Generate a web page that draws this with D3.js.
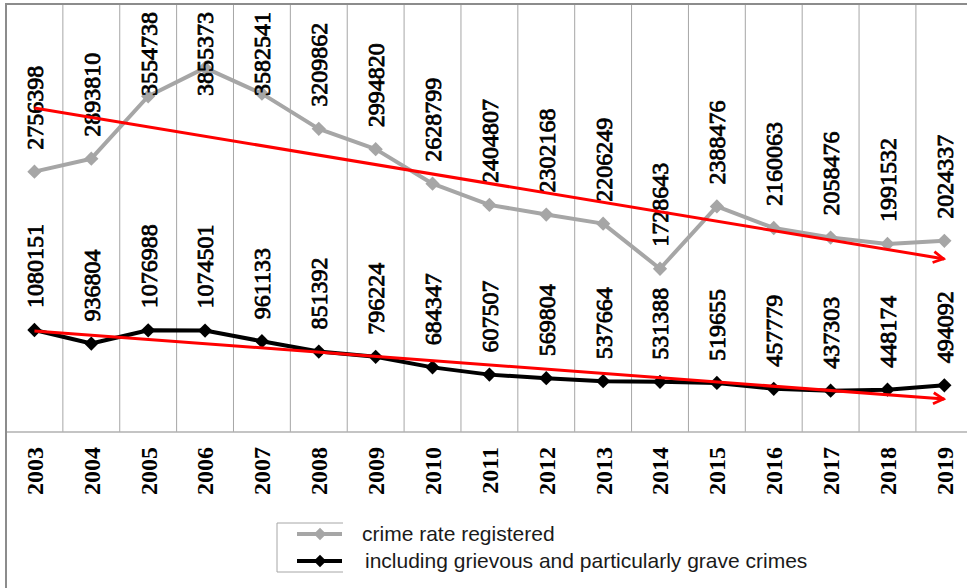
<!DOCTYPE html>
<html>
<head>
<meta charset="utf-8">
<script src="https://cdn.jsdelivr.net/npm/d3@7/dist/d3.min.js"></script>
<style>
  html, body { margin: 0; padding: 0; background: #fff; }
  svg { display: block; }
</style>
</head>
<body>
<svg id="chart" width="967" height="588"></svg>
<script>
// Registered crime, 2003–2019
const years = ["2003","2004","2005","2006","2007","2008","2009","2010","2011",
               "2012","2013","2014","2015","2016","2017","2018","2019"];
const crimeTotal = [2756398, 2893810, 3554738, 3855373, 3582541, 3209862, 2994820,
                    2628799, 2404807, 2302168, 2206249, 1728643, 2388476, 2160063,
                    2058476, 1991532, 2024337];
const crimeGrave = [1080151, 936804, 1076988, 1074501, 961133, 851392, 796224,
                    684347, 607507, 569804, 537664, 531388, 519655, 457779,
                    437303, 448174, 494092];
const legendLabels = ["crime rate registered",
                      "including grievous and particularly grave crimes"];

const W = 967, H = 588;
const plotLeft = 6, plotTop = 4, axisY = 432;
const colW = 56.87;

const svg = d3.select("#chart");
const serif = "'Liberation Serif', 'Times New Roman', serif";
const sans = "'Liberation Sans', Arial, sans-serif";

const x = d3.scaleBand().domain(years).range([plotLeft, plotLeft + colW * years.length]);
const cx = d => x(d) + x.bandwidth() / 2;
const y = d3.scaleLinear().domain([0, 4500000]).range([axisY, 7]);

// column separators
svg.append("g").selectAll("line")
  .data(years.slice(1))
  .join("line")
  .attr("x1", d => x(d)).attr("x2", d => x(d))
  .attr("y1", plotTop).attr("y2", axisY)
  .attr("stroke", "#a6a6a6").attr("stroke-width", 1);

// category axis line
svg.append("line")
  .attr("x1", plotLeft).attr("x2", W)
  .attr("y1", axisY).attr("y2", axisY)
  .attr("stroke", "#b0b0b0").attr("stroke-width", 1.5);

// outer frame (top and left)
svg.append("path")
  .attr("d", `M${W},${plotTop} H${plotLeft} V${H}`)
  .attr("fill", "none").attr("stroke", "#8c8c8c").attr("stroke-width", 2);

// year labels
svg.append("g").selectAll("text")
  .data(years)
  .join("text")
  .attr("transform", d => `translate(${cx(d)},447) rotate(-90)`)
  .attr("text-anchor", "end")
  .attr("dy", "0.35em")
  .attr("font-family", serif).attr("font-weight", "bold").attr("font-size", 24)
  .attr("fill", "#000")
  .text(d => d);

// least-squares trend over the series
function trend(vals) {
  const n = vals.length, xm = (n - 1) / 2, ym = d3.mean(vals);
  let sxy = 0, sxx = 0;
  vals.forEach((v, i) => { sxy += (i - xm) * (v - ym); sxx += (i - xm) * (i - xm); });
  const b = sxy / sxx, a = ym - b * xm;
  return [a, a + b * (n - 1)];
}

const defs = svg.append("defs");
defs.append("marker")
  .attr("id", "arrow")
  .attr("markerUnits", "userSpaceOnUse")
  .attr("viewBox", "-14 -8 16 16")
  .attr("refX", 0).attr("refY", 0)
  .attr("markerWidth", 16).attr("markerHeight", 16)
  .attr("orient", "auto")
  .append("path")
  .attr("d", "M-11,-5.5 L-1,0 L-11,5.5")
  .attr("fill", "none").attr("stroke", "#ff0000").attr("stroke-width", 2.8)
  .attr("stroke-linejoin", "miter");

const diamond = d3.symbol().type(d3.symbolDiamond2);

function drawSeries(vals, color, markerSize) {
  const g = svg.append("g");
  const line = d3.line().x((d, i) => cx(years[i])).y(d => y(d));
  g.append("path")
    .attr("d", line(vals))
    .attr("fill", "none").attr("stroke", color)
    .attr("stroke-width", 4).attr("stroke-linejoin", "round");
  g.selectAll("path.pt")
    .data(vals)
    .join("path")
    .attr("class", "pt")
    .attr("transform", (d, i) => `translate(${cx(years[i])},${y(d)})`)
    .attr("d", diamond.size(markerSize))
    .attr("fill", color);
}

function drawTrend(vals) {
  const [v0, v1] = trend(vals);
  svg.append("line")
    .attr("x1", cx(years[0])).attr("y1", y(v0))
    .attr("x2", cx(years[years.length - 1])).attr("y2", y(v1))
    .attr("stroke", "#ff0000").attr("stroke-width", 3)
    .attr("marker-end", "url(#arrow)");
}

function drawLabels(vals) {
  const g = svg.append("g");
  g.selectAll("text")
    .data(vals)
    .join("text")
    .attr("text-anchor", "start")
    .attr("dy", "0.35em")
    .attr("font-family", serif).attr("font-size", 24)
    .attr("fill", "#000").attr("stroke", "#000").attr("stroke-width", 0.8)
    .text(d => d)
    .attr("transform", function (d, i) {
      const len = this.getComputedTextLength();
      let bottom = y(d) - 22;
      if (bottom - len < 12) bottom = 12 + len;
      return `translate(${cx(years[i])},${bottom}) rotate(-90)`;
    });
}

drawSeries(crimeTotal, "#a6a6a6", 130);
drawSeries(crimeGrave, "#000000", 130);
drawLabels(crimeTotal);
drawLabels(crimeGrave);
drawTrend(crimeTotal);
drawTrend(crimeGrave);

// legend
const lg = svg.append("g");
lg.append("path")
  .attr("d", "M343,523 H277 V572 H343")
  .attr("fill", "none").attr("stroke", "#a6a6a6").attr("stroke-width", 1);
const legendItems = [
  { label: legendLabels[0], color: "#a6a6a6", ly: 534, tx: 362 },
  { label: legendLabels[1], color: "#000000", ly: 561, tx: 365 }
];
legendItems.forEach(it => {
  lg.append("line")
    .attr("x1", 297).attr("x2", 342).attr("y1", it.ly).attr("y2", it.ly)
    .attr("stroke", it.color).attr("stroke-width", 4);
  lg.append("path")
    .attr("transform", `translate(320,${it.ly})`)
    .attr("d", diamond.size(100))
    .attr("fill", it.color);
  lg.append("text")
    .attr("x", it.tx).attr("y", it.ly + 7)
    .attr("font-family", sans).attr("font-size", 21)
    .attr("fill", "#1a1a1a")
    .text(it.label);
});
</script>
</body>
</html>
